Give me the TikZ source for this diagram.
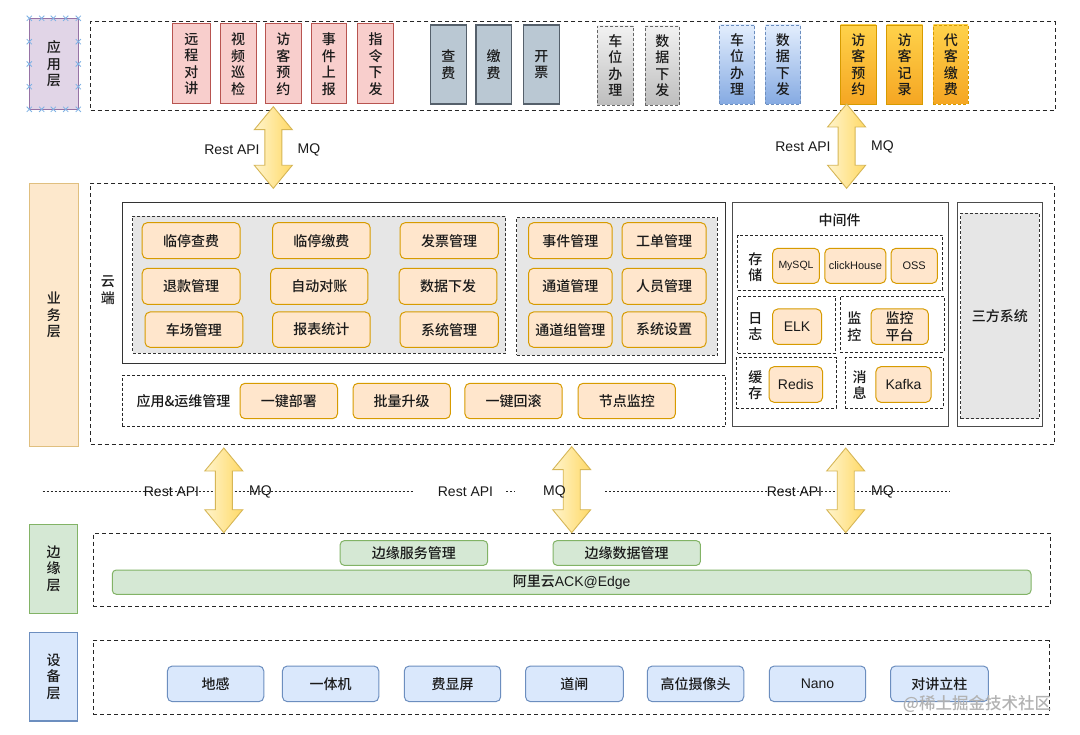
\documentclass[tikz,border=0pt]{standalone}
\usepackage{fontspec}
\setmainfont{Noto Sans CJK SC}[UprightFont={* Medium}]
\newfontfamily\lat{Liberation Sans}
\definecolor{txt}{HTML}{1A1A1A}
\definecolor{pinkF}{HTML}{F8CECC}\definecolor{pinkD}{HTML}{B85450}
\definecolor{slateF}{HTML}{BAC8D3}\definecolor{slateD}{HTML}{55606B}
\definecolor{grayT}{HTML}{F2F2F2}\definecolor{grayB}{HTML}{BDBDBD}\definecolor{grayD}{HTML}{666666}
\definecolor{blueT}{HTML}{E3EEFD}\definecolor{blueB}{HTML}{85AAE2}\definecolor{blueD}{HTML}{6C8EBF}
\definecolor{orT}{HTML}{FFD24A}\definecolor{orB}{HTML}{F5A623}\definecolor{orD}{HTML}{D79B00}
\definecolor{obF}{HTML}{FFE6CC}\definecolor{obD}{HTML}{D79B00}
\definecolor{purF}{HTML}{E1D5E7}\definecolor{purD}{HTML}{9673A6}
\definecolor{busF}{HTML}{FDE8CC}\definecolor{busD}{HTML}{E0BF7F}
\definecolor{greF}{HTML}{D5E8D4}\definecolor{greD}{HTML}{82B366}
\definecolor{bluF}{HTML}{DAE8FC}\definecolor{bluD}{HTML}{6C8EBF}
\definecolor{arL}{HTML}{FFF4CC}\definecolor{arR}{HTML}{FFD966}\definecolor{arD}{HTML}{D6B656}
\definecolor{areaF}{HTML}{E6E6E6}
\definecolor{selx}{HTML}{7FB2E5}
\newcommand\mybox[7]{\node[#2, minimum width={(#5-#3)*1pt}, minimum height={(#6-#4)*1pt}] (#1) at ({(#3+#5)/2},{(#4+#6)/2}) {#7};}
\newcommand\dblarrow[4]{%
  \path[arrowst] (#2,#3) coordinate (#1t) -- (#2+19,#3+23) -- (#2+8.5,#3+23) -- (#2+8.5,#4-23) -- (#2+19,#4-23) -- (#2,#4) coordinate (#1b) -- (#2-19,#4-23) -- (#2-8.5,#4-23) -- (#2-8.5,#3+23) -- (#2-19,#3+23) -- cycle;}
\begin{document}
\begin{tikzpicture}[x=1pt,y=-1pt,
  base/.style={rectangle, inner sep=0pt, outer sep=0pt, align=center, text=txt, font=\fontsize{14}{16.5}\selectfont},
  latin/.style={font=\lat\fontsize{14}{16.5}\selectfont},
  container/.style={base, draw=black!85, dash pattern=on 4pt off 3pt, line width=0.9pt},
  layerlab/.style={base, line width=1.3pt},
  pinkbox/.style={base, draw=pinkD, fill=pinkF, line width=1pt},
  slatebox/.style={base, draw=slateD, fill=slateF, line width=1.2pt},
  graybox/.style={base, draw=grayD, top color=grayT, bottom color=grayB, dash pattern=on 3pt off 2pt, line width=0.9pt},
  bluebox/.style={base, draw=blueD, top color=blueT, bottom color=blueB, dash pattern=on 3pt off 2pt, line width=0.9pt},
  orbox/.style={base, draw=orD, top color=orT, bottom color=orB, line width=0.9pt},
  rbox/.style={base, draw=obD, fill=obF, rounded corners=5pt, line width=1pt},
  area/.style={base, draw=black!80, fill=areaF, dash pattern=on 3pt off 2pt, line width=0.9pt},
  subgrp/.style={base, draw=black!85, dash pattern=on 3pt off 2pt, line width=0.9pt},
  solidgrp/.style={base, draw=black!80, line width=1pt},
  grebox/.style={base, draw=greD, fill=greF, rounded corners=4pt, line width=1pt},
  devbox/.style={base, draw=bluD, fill=bluF, rounded corners=5pt, line width=1pt},
  lbl/.style={base},
  arrowst/.style={draw=arD, left color=arL, right color=arR, line width=0.9pt, line join=miter},
  dotline/.style={draw=black!85, dash pattern=on 2pt off 2pt, line width=0.8pt}
]
\useasboundingbox[fill=white] (0,0) rectangle (1080,735);

% ---------- layer labels ----------
\mybox{L1}{layerlab, draw=purD, fill=purF}{29.3}{18.3}{78.3}{109.3}{应\\用\\层}
\mybox{L2}{layerlab, draw=busD, fill=busF}{29.3}{183.3}{78.5}{446.7}{业\\务\\层}
\mybox{L3}{layerlab, draw=greD, fill=greF}{29.6}{524.3}{77.8}{613.3}{边\\缘\\层}
\mybox{L4}{layerlab, draw=bluD, fill=bluF}{29.6}{632.3}{77.8}{721}{设\\备\\层}
\foreach \px/\py in {29.3/18.3,41.7/18.3,53.3/18.3,65.7/18.3,78.3/18.3,
  29.3/109.3,41.7/109.3,53.3/109.3,65.7/109.3,78.3/109.3,
  29.3/41.7,29.3/64,29.3/86.7,78.3/41.7,78.3/64,78.3/86.7}
  \draw[selx, line width=0.8pt] (\px-2.6,\py-2.6) -- (\px+2.6,\py+2.6) (\px-2.6,\py+2.6) -- (\px+2.6,\py-2.6);

% ---------- containers ----------
\mybox{C1}{container}{90.7}{21.7}{1055}{110.7}{}
\mybox{C2}{container}{90.6}{183.3}{1054}{444.3}{}
\mybox{C3}{container}{93}{533.3}{1050}{606}{}
\mybox{C4}{container}{93}{640.7}{1049}{714}{}

% ---------- application layer ----------
\mybox{a1}{pinkbox}{172.7}{24}{210}{104}{远\\程\\对\\讲}
\mybox{a2}{pinkbox}{220}{24}{256}{104}{视\\频\\巡\\检}
\mybox{a3}{pinkbox}{265.7}{24}{301}{104}{访\\客\\预\\约}
\mybox{a4}{pinkbox}{311}{24}{346.7}{104}{事\\件\\上\\报}
\mybox{a5}{pinkbox}{357.7}{24}{393.3}{104}{指\\令\\下\\发}
\mybox{b1}{slatebox}{430.4}{25}{466.3}{104}{查\\费}
\mybox{b2}{slatebox}{475.9}{25}{511.4}{104}{缴\\费}
\mybox{b3}{slatebox}{523.6}{25}{559.2}{104}{开\\票}
\mybox{g1}{graybox}{597.3}{26}{633.3}{105}{车\\位\\办\\理}
\mybox{g2}{graybox}{645}{26}{679.7}{105}{数\\据\\下\\发}
\mybox{u1}{bluebox}{719.6}{25}{754.7}{104}{车\\位\\办\\理}
\mybox{u2}{bluebox}{765.6}{25}{800.3}{104}{数\\据\\下\\发}
\mybox{o1}{orbox}{840.6}{25}{876.1}{104}{访\\客\\预\\约}
\mybox{o2}{orbox}{886.6}{25}{922.6}{104}{访\\客\\记\\录}
\mybox{o3}{orbox, dash pattern=on 3pt off 2pt}{933.4}{25}{968.1}{104}{代\\客\\缴\\费}

% ---------- business layer ----------
\mybox{cloud}{solidgrp}{122.2}{202.7}{725.7}{364}{}
\node[lbl] (cloudlbl) at (107.8,290) {云\\端};
\mybox{area1}{area}{132.9}{216}{505.5}{353.3}{}
\mybox{area2}{area}{516.6}{217.7}{717.2}{355}{}
\mybox{s1}{rbox}{142.2}{222.7}{240}{258.7}{临停查费}
\mybox{s2}{rbox}{272.7}{222.7}{370.2}{258.7}{临停缴费}
\mybox{s3}{rbox}{400.1}{222.7}{498.3}{258.7}{发票管理}
\mybox{s4}{rbox}{142.2}{268.3}{240}{304.3}{退款管理}
\mybox{s5}{rbox}{270.7}{268.3}{367.8}{304.3}{自动对账}
\mybox{s6}{rbox}{399.1}{268.3}{496.9}{304.3}{数据下发}
\mybox{s7}{rbox}{145}{312}{242.8}{347.3}{车场管理}
\mybox{s8}{rbox}{272.7}{312}{370.2}{347.3}{报表统计}
\mybox{s9}{rbox}{400.1}{312}{498.3}{347.3}{系统管理}
\mybox{t1}{rbox}{528.5}{222.7}{612.1}{258.7}{事件管理}
\mybox{t2}{rbox}{622.1}{222.7}{706.1}{258.7}{工单管理}
\mybox{t3}{rbox}{528.5}{268.3}{612.1}{304.3}{通道管理}
\mybox{t4}{rbox}{622.1}{268.3}{706.1}{304.3}{人员管理}
\mybox{t5}{rbox}{528.5}{312}{612.1}{347.3}{通道组管理}
\mybox{t6}{rbox}{622.1}{312}{706.1}{347.3}{系统设置}

\mybox{ops}{subgrp}{122.2}{375.7}{725.7}{426.7}{}
\node[lbl] (opslbl) at (183.5,401) {应用\&运维管理};
\mybox{p1}{rbox}{240}{383.3}{337.5}{418.7}{一键部署}
\mybox{p2}{rbox}{353}{383.3}{450.4}{418.7}{批量升级}
\mybox{p3}{rbox}{464.9}{383.3}{562.2}{418.7}{一键回滚}
\mybox{p4}{rbox}{578.1}{383.3}{675.4}{418.7}{节点监控}

\mybox{mid}{solidgrp, draw=black!70}{732.3}{202.7}{948.4}{426.7}{}
\node[lbl] (midlbl) at (839.6,220) {中间件};
\mybox{m1}{subgrp}{737.5}{235.3}{942.8}{290}{}
\node[lbl] (m1l) at (755.3,267.3) {存\\储};
\mybox{mysql}{rbox, font=\lat\fontsize{10.5}{12}\selectfont}{772.7}{248.3}{819.3}{283.3}{MySQL}
\mybox{ch}{rbox, font=\lat\fontsize{11}{12}\selectfont}{824.8}{248.3}{885.9}{283.3}{clickHouse}
\mybox{oss}{rbox, font=\lat\fontsize{11}{12}\selectfont}{891}{248.3}{937.3}{283.3}{OSS}
\mybox{m2}{subgrp}{737.5}{296}{835.6}{353.3}{}
\node[lbl] (m2l) at (755.3,326.7) {日\\志};
\mybox{elk}{rbox, latin}{772.7}{309}{821.5}{344.3}{ELK}
\mybox{m3}{subgrp}{840.4}{296}{944}{352.3}{}
\node[lbl] (m3l) at (854.4,326.7) {监\\控};
\mybox{mon}{rbox}{871}{309}{928.4}{344.3}{监控\\平台}
\mybox{m4}{subgrp}{736}{357.7}{836}{408.3}{}
\node[lbl] (m4l) at (755.3,385.3) {缓\\存};
\mybox{redis}{rbox, latin}{769}{366.7}{822.6}{402.3}{Redis}
\mybox{m5}{subgrp}{845.2}{357.7}{943.2}{408.3}{}
\node[lbl] (m5l) at (859.6,385.3) {消\\息};
\mybox{kafka}{rbox, latin}{875.9}{366.7}{931}{402.3}{Kafka}

\mybox{third}{solidgrp, draw=black!70}{957.6}{202.7}{1042}{426.7}{}
\mybox{thirdin}{area}{960.6}{213.3}{1039}{418.7}{三方系统}

% ---------- edge layer ----------
\mybox{e1}{grebox}{340.2}{540.7}{487.6}{565.3}{边缘服务管理}
\mybox{e2}{grebox}{553}{540.7}{700.4}{565.3}{边缘数据管理}
\mybox{e3}{grebox}{112.3}{570}{1031}{594.3}{阿里云{\lat ACK@Edge}}

% ---------- device layer ----------
\mybox{d1}{devbox}{167.4}{666}{263.8}{701.7}{地感}
\mybox{d2}{devbox}{282.4}{666}{378.8}{701.7}{一体机}
\mybox{d3}{devbox}{404.3}{666}{500.7}{701.7}{费显屏}
\mybox{d4}{devbox}{525.5}{666}{623.3}{701.7}{道闸}
\mybox{d5}{devbox}{647.4}{666}{743.8}{701.7}{高位摄像头}
\mybox{d6}{devbox, latin}{769.3}{666}{865.7}{701.7}{Nano}
\mybox{d7}{devbox}{890.5}{666}{988.3}{701.7}{对讲立柱}

% ---------- dotted separator ----------
\coordinate (ds1) at (42.7,491.7); \coordinate (de1) at (413,491.7);
\coordinate (ds2) at (506,491.7); \coordinate (de2) at (515,491.7);
\coordinate (ds3) at (605,491.7); \coordinate (de3) at (950,491.7);
\draw[dotline] (ds1) -- (de1) (ds2) -- (de2) (ds3) -- (de3);

% ---------- double arrows ----------
\dblarrow{A1}{273.3}{106.7}{188.3}
\dblarrow{A2}{846.6}{104}{188.3}
\dblarrow{A3}{223.8}{448}{532.7}
\dblarrow{A4}{571.7}{446.7}{532.7}
\dblarrow{A5}{845.7}{448}{532.7}

% ---------- protocol labels ----------
\node[lbl, latin] (r1) at (232,150) {Rest API};
\node[lbl, latin] (q1) at (309,150) {MQ};
\node[lbl, latin] (r2) at (803,147) {Rest API};
\node[lbl, latin] (q2) at (882.5,147) {MQ};
\node[lbl, latin] (r3) at (171.5,491.7) {Rest API};
\node[lbl, latin] (q3) at (260.5,491.7) {MQ};
\node[lbl, latin] (r4) at (465.5,491.7) {Rest API};
\node[lbl, latin] (q4) at (554.5,491.7) {MQ};
\node[lbl, latin] (r5) at (794.5,491.7) {Rest API};
\node[lbl, latin] (q5) at (882.5,491.7) {MQ};

% ---------- watermark ----------
\node[base, text=black!30, font=\fontsize{16.5}{18}\selectfont] (wm) at (977,704) {@稀土掘金技术社区};
\end{tikzpicture}
\end{document}
